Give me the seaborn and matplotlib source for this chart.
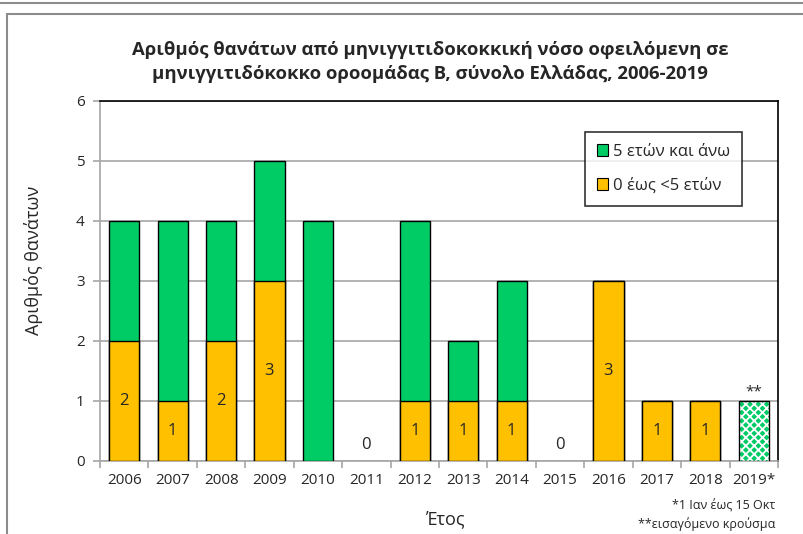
import matplotlib
matplotlib.use("Agg")
import matplotlib.pyplot as plt
import seaborn as sns
import pandas as pd
from matplotlib.lines import Line2D
from matplotlib.patches import Patch

years = ["2006", "2007", "2008", "2009", "2010", "2011", "2012", "2013",
         "2014", "2015", "2016", "2017", "2018", "2019*"]
under5 = [2, 1, 2, 3, 0, 0, 1, 1, 1, 0, 3, 1, 1, 0]
over5 = [2, 3, 2, 2, 4, 0, 3, 1, 2, 0, 0, 0, 0, 0]
imported = [0, 0, 0, 0, 0, 0, 0, 0, 0, 0, 0, 0, 0, 1]

title = ("Αριθμός θανάτων από μηνιγγιτιδοκοκκική νόσο οφειλόμενη σε\n"
         "μηνιγγιτιδόκοκκο οροομάδας Β, σύνολο Ελλάδας, 2006-2019")
ylabel = "Αριθμός θανάτων"
xlabel = "Έτος"
legend_labels = ["5 ετών και άνω", "0 έως <5 ετών"]
note1 = "*1 Ιαν έως 15 Οκτ"
note2 = "**εισαγόμενο κρούσμα"

GREEN = "#00CC66"
YELLOW = "#FFC000"
GRID = "#a6a6a6"

sns.set_theme(style="white")
FONT = ["Open Sans", "DejaVu Sans"]
plt.rcParams["font.family"] = FONT
plt.rcParams["hatch.linewidth"] = 1.3

df = pd.DataFrame({"year": years, "under5": under5, "over5": over5,
                   "imported": imported})
df["total"] = df["under5"] + df["over5"]

fig = plt.figure(figsize=(8.04, 5.34), dpi=100)
ax = fig.add_axes([100 / 804, 1 - 461 / 534, (778 - 100) / 804, (461 - 101) / 534])

W = 0.62
sns.barplot(data=df[df["total"] > 0], x="year", y="total", order=years,
            color=GREEN, saturation=1, width=W, edgecolor="black",
            linewidth=1, ax=ax, zorder=3)
sns.barplot(data=df[df["under5"] > 0], x="year", y="under5", order=years,
            color=YELLOW, saturation=1, width=W, edgecolor="black",
            linewidth=1, ax=ax, zorder=3)
# imported case (hatched)
sns.barplot(data=df[df["imported"] > 0], x="year", y="imported", order=years,
            color=GREEN, saturation=1, width=W, edgecolor="white",
            linewidth=0, hatch="xxxx", ax=ax, zorder=3)
sns.barplot(data=df[df["imported"] > 0], x="year", y="imported", order=years,
            fill=False, width=W, edgecolor="black", linewidth=1, ax=ax, zorder=4)

# value labels
yel = ax.containers[1]
ax.bar_label(yel, labels=[str(v) for v in df.loc[df["under5"] > 0, "under5"]],
             label_type="center", fontsize=12, zorder=5)
for i, (t, imp) in enumerate(zip(df["total"], df["imported"])):
    if t == 0 and imp == 0:
        ax.text(i, 0.27, "0", ha="center", va="center", fontsize=12)
ax.bar_label(ax.containers[3], labels=["**"], padding=1, fontsize=11, zorder=5)

ax.set_ylim(0, 6)
ax.set_xlim(-0.5, len(years) - 0.5)
ax.set_yticks(range(0, 7))
ax.yaxis.grid(True, color=GRID, linewidth=1.2, zorder=0)
ax.set_axisbelow(True)

ax.set_xticks(range(len(years)))
ax.set_xticklabels(years)
ax.set_xticks([i - 0.5 for i in range(len(years) + 1)], minor=True)
ax.tick_params(axis="x", which="major", length=0, pad=9, labelsize=11)
ax.tick_params(axis="x", which="minor", length=5, color=GRID, width=1.2,
               direction="out", bottom=True)
ax.tick_params(axis="y", length=5, color=GRID, width=1.2, direction="out",
               left=True, labelsize=11, pad=6)

for s in ["left", "bottom"]:
    ax.spines[s].set_color(GRID)
    ax.spines[s].set_linewidth(1.2)
for s in ["top", "right"]:
    ax.spines[s].set_color("black")
    ax.spines[s].set_linewidth(1.2)

ax.set_xlabel(xlabel, fontsize=13)
ax.set_ylabel(ylabel, fontsize=13)
ax.xaxis.set_label_coords((446 - 100) / 678, (461 - 510) / 360)
ax.yaxis.set_label_coords((43 - 100) / 678, (461 - 260) / 360)

fig.text(0.535, 1 - 62 / 534, title, ha="center", va="center",
         fontsize=13.3, fontweight="bold", linespacing=1.45)

handles = [Patch(facecolor=GREEN, edgecolor="black", linewidth=0.8),
           Patch(facecolor=YELLOW, edgecolor="black", linewidth=0.8)]
leg = ax.legend(handles, legend_labels, loc="upper left",
                bbox_to_anchor=((585 - 100) / 678, (461 - 132) / 360),
                fontsize=12, frameon=True, fancybox=False, shadow=False,
                handlelength=0.7, handleheight=0.7, handletextpad=0.3,
                labelspacing=1.1, borderpad=0.7, borderaxespad=0)
leg.get_frame().set_edgecolor("black")
leg.get_frame().set_linewidth(1.2)

fig.text(775 / 804, 1 - 506 / 534, note1, ha="right", va="center", fontsize=9)
fig.text(775 / 804, 1 - 524 / 534, note2, ha="right", va="center", fontsize=9)

# outer frame lines
fc = "#8c8c8c"
fig.add_artist(Line2D([0, 1], [1 - 3 / 534, 1 - 3 / 534], color=fc, lw=1.5,
                      transform=fig.transFigure))
fig.add_artist(Line2D([7 / 804, 1], [1 - 14 / 534, 1 - 14 / 534], color=fc,
                      lw=1.5, transform=fig.transFigure))
fig.add_artist(Line2D([7 / 804, 7 / 804], [0, 1 - 14 / 534], color=fc, lw=1.5,
                      transform=fig.transFigure))

fig.savefig("out.png", dpi=100)
